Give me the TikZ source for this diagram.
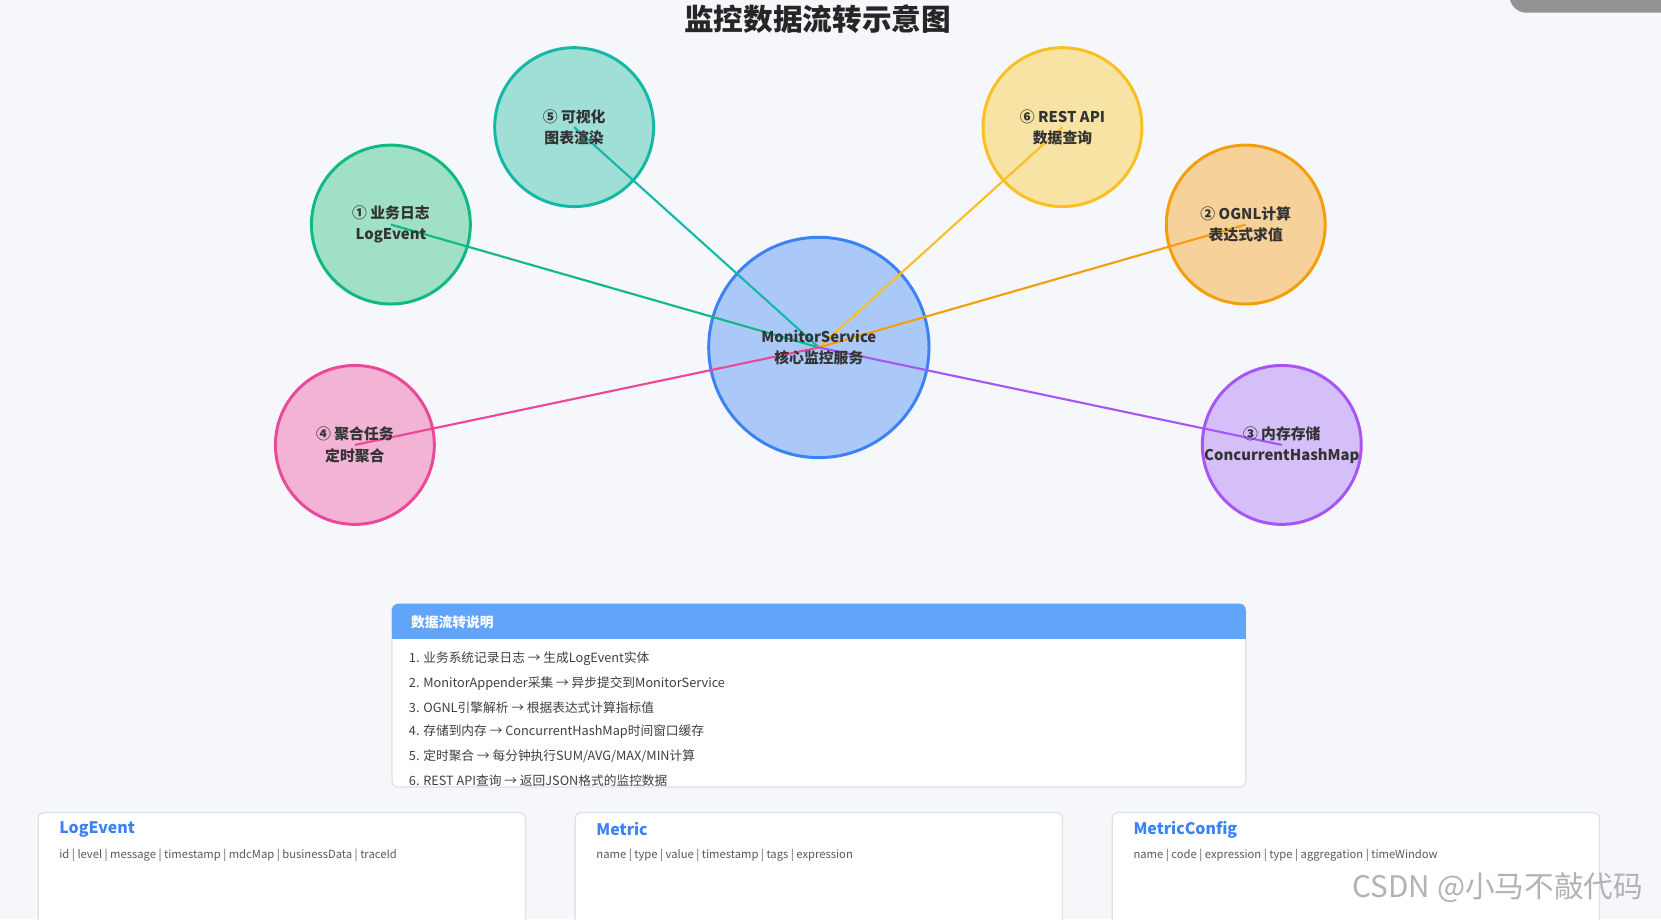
\documentclass[tikz,border=0pt]{standalone}
\usepackage{fontspec}
\setmainfont{Noto Sans CJK SC}
\definecolor{bgc}{HTML}{F6F7FB}
\definecolor{hdr}{RGB}{96,165,250}
\definecolor{cG}{RGB}{16,185,129}\definecolor{fG}{RGB}{159,224,198}
\definecolor{cT}{RGB}{20,184,166}\definecolor{fT}{RGB}{159,223,214}
\definecolor{cY}{RGB}{251,191,36}\definecolor{fY}{RGB}{247,227,164}
\definecolor{cO}{RGB}{245,158,11}\definecolor{fO}{RGB}{246,210,154}
\definecolor{cP}{RGB}{236,72,153}\definecolor{fP}{RGB}{242,179,212}
\definecolor{cV}{RGB}{168,85,247}\definecolor{fV}{RGB}{212,191,248}
\definecolor{cB}{RGB}{59,130,246}\definecolor{fB}{RGB}{171,201,248}
\begin{document}
\begin{tikzpicture}[x=0.5pt,y=-0.5pt,
  ball/.style={circle,line width=1.4pt,minimum size=75pt,inner sep=0},
  lbl/.style={font=\fontsize{7}{10}\selectfont\bfseries,text=black!80,align=center},
  link/.style={line width=1pt},
  flowstep/.style={anchor=west,font=\fontsize{6}{7}\selectfont,text=black!75},
  card/.style={draw=black!12,fill=white,rounded corners=3pt,line width=0.6pt},
  ctitle/.style={anchor=west,font=\fontsize{7.5}{9}\selectfont\bfseries,text=cB},
  cfield/.style={anchor=west,font=\fontsize{5.3}{7}\selectfont,text=black!65}]
\fill[bgc] (0,0) rectangle (1568,868);
\useasboundingbox (0,0) rectangle (1568,868);
\fill[gray!85,rounded corners=8pt] (1425,-20) rectangle (1600,12);
\node[font=\fontsize{14}{16}\selectfont\bfseries,text=black!85] (title) at (772,18) {监控数据流转示意图};
% circles
\node[ball,minimum size=104pt,fill=fB,draw=cB] (c) at (773,328) {};
\node[ball,fill=fG,draw=cG] (n1) at (369,212) {};
\node[ball,fill=fT,draw=cT] (n5) at (542,120) {};
\node[ball,fill=fY,draw=cY] (n6) at (1003,120) {};
\node[ball,fill=fO,draw=cO] (n2) at (1176,212) {};
\node[ball,fill=fP,draw=cP] (n4) at (335,420) {};
\node[ball,fill=fV,draw=cV] (n3) at (1210,420) {};
% links
\draw[link,cG] (n1.center) -- (c.center);
\draw[link,cT] (n5.center) -- (c.center);
\draw[link,cY] (n6.center) -- (c.center);
\draw[link,cO] (n2.center) -- (c.center);
\draw[link,cP] (n4.center) -- (c.center);
\draw[link,cV] (n3.center) -- (c.center);
% labels
\node[lbl] (tc) at (c) {MonitorService\\核心监控服务};
\node[lbl] (t1) at (n1) {① 业务日志\\LogEvent};
\node[lbl] (t5) at (n5) {⑤ 可视化\\图表渲染};
\node[lbl] (t6) at (n6) {⑥ REST API\\数据查询};
\node[lbl] (t2) at (n2) {② OGNL计算\\表达式求值};
\node[lbl] (t4) at (n4) {④ 聚合任务\\定时聚合};
\node[lbl] (t3) at (n3) {③ 内存存储\\ConcurrentHashMap};
% panel
\draw[draw=black!12,fill=white,rounded corners=3pt,line width=0.6pt] (370,570) rectangle (1176,743);
\fill[hdr,rounded corners=3pt] (370,570) rectangle (1176,603);
\fill[hdr] (370,590) rectangle (1176,603);
\node[anchor=west,font=\fontsize{6.5}{8}\selectfont\bfseries,text=white] (ph) at (381,587) {数据流转说明};
\node[flowstep] (s1) at (379,622) {1. 业务系统记录日志 → 生成LogEvent实体};
\node[flowstep] (s2) at (379,645) {2. MonitorAppender采集 → 异步提交到MonitorService};
\node[flowstep] (s3) at (379,668) {3. OGNL引擎解析 → 根据表达式计算指标值};
\node[flowstep] (s4) at (379,691) {4. 存储到内存 → ConcurrentHashMap时间窗口缓存};
\node[flowstep] (s5) at (379,714) {5. 定时聚合 → 每分钟执行SUM/AVG/MAX/MIN计算};
\node[flowstep] (s6) at (379,737) {6. REST API查询 → 返回JSON格式的监控数据};
% cards
\draw[card] (36,767) rectangle (496,880);
\draw[card] (543,767) rectangle (1003,880);
\draw[card] (1050,767) rectangle (1510,880);
\node[ctitle] (k1) at (49,783) {LogEvent};
\node[cfield] (f1) at (49,807) {id | level | message | timestamp | mdcMap | businessData | traceId};
\node[ctitle] (k2) at (556,783) {Metric};
\node[cfield] (f2) at (556,807) {name | type | value | timestamp | tags | expression};
\node[ctitle] (k3) at (1063,783) {MetricConfig};
\node[cfield] (f3) at (1063,807) {name | code | expression | type | aggregation | timeWindow};
\node[font=\fontsize{14}{16}\selectfont,text=black!30] (wm) at (1414,838) {CSDN @小马不敲代码};
\end{tikzpicture}
\end{document}
